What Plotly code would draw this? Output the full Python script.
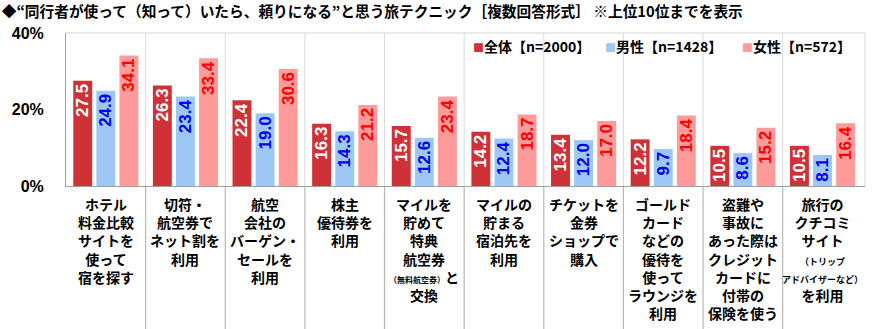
import plotly.graph_objects as go

categories = [
    "ホテル<br>料金比較<br>サイトを<br>使って<br>宿を探す",
    "切符・<br>航空券で<br>ネット割を<br>利用",
    "航空<br>会社の<br>バーゲン・<br>セールを<br>利用",
    "株主<br>優待券を<br>利用",
    "マイルを<br>貯めて<br>特典<br>航空券<br><span style=\"font-size:8px\">（無料航空券）</span>と<br>交換",
    "マイルの<br>貯まる<br>宿泊先を<br>利用",
    "チケットを<br>金券<br>ショップで<br>購入",
    "ゴールド<br>カード<br>などの<br>優待を<br>使って<br>ラウンジを<br>利用",
    "盗難や<br>事故に<br>あった際は<br>クレジット<br>カードに<br>付帯の<br>保険を使う",
    "旅行の<br>クチコミ<br>サイト<br><span style=\"font-size:9px\">（トリップ</span><br><span style=\"font-size:9px\">アドバイザーなど）</span><br>を利用",
]
series_names = ["全体【n=2000】", "男性【n=1428】", "女性【n=572】"]
total = [27.5, 26.3, 22.4, 16.3, 15.7, 14.2, 13.4, 12.2, 10.5, 10.5]
male = [24.9, 23.4, 19.0, 14.3, 12.6, 12.4, 12.0, 9.7, 8.6, 8.1]
female = [34.1, 33.4, 30.6, 21.2, 23.4, 18.7, 17.0, 18.4, 15.2, 16.4]
y_ticks = [0, 20, 40]
y_tick_labels = ["0%", "20%", "40%"]
title_text = "◆“同行者が使って（知って）いたら、頼りになる”と思う旅テクニック［複数回答形式］ ※上位10位までを表示"

bar_colors = ["#CF3236", "#9DC8F5", "#FF9B9B"]
text_colors = ["#FFFFFF", "#0000EE", "#FF0000"]
values = [total, male, female]

JP = "Noto Sans CJK JP"
NUM = "Liberation Sans"

fig = go.Figure()
for name, vals, bc, tc in zip(series_names, values, bar_colors, text_colors):
    fig.add_trace(go.Bar(
        x=categories, y=vals, name=name,
        marker=dict(color=bc, line=dict(width=0)),
        text=[f"{v:.1f}" for v in vals],
        textposition="inside", insidetextanchor="end", textangle=-90,
        textfont=dict(family=NUM, size=17, color=tc, weight="bold"),
        cliponaxis=False, showlegend=False,
    ))

plot_top, plot_bottom, H = 33, 186, 329
y_low = -(H - plot_bottom) / (plot_bottom - plot_top)

shapes = []
for i in range(len(categories) - 1):
    shapes.append(dict(type="line", xref="x", yref="paper", x0=i + 0.5, x1=i + 0.5,
                       y0=0, y1=1, line=dict(color="#DADADA", width=1), layer="below"))
    shapes.append(dict(type="line", xref="x", yref="paper", x0=i + 0.5, x1=i + 0.5,
                       y0=y_low, y1=0, line=dict(color="#B8B8B8", width=1.2), layer="below"))
shapes.append(dict(type="line", xref="paper", yref="paper", x0=0, x1=1, y0=1, y1=1,
                   line=dict(color="#D6D6D6", width=1)))
shapes.append(dict(type="line", xref="paper", yref="paper", x0=1, x1=1, y0=0, y1=1,
                   line=dict(color="#D6D6D6", width=1)))

annotations = []
for cat in categories:
    annotations.append(dict(x=cat, xref="x", y=0, yref="paper", yanchor="top", xanchor="center",
                            yshift=-6, text=f"<b>{cat}</b>", showarrow=False, align="center",
                            font=dict(family=JP, size=14, color="#000000")))

legend_x = [0.507, 0.672, 0.843]
for name, bc, lx in zip(series_names, bar_colors, legend_x):
    annotations.append(dict(x=lx, xref="paper", y=0.915, yref="paper", xanchor="left",
                            yanchor="middle", showarrow=False,
                            text=f"<span style=\"color:{bc};font-size:11px\">■</span><b>{name}</b>",
                            font=dict(family=JP, size=14, color="#000000")))

fig.update_layout(
    width=880, height=329,
    margin=dict(l=47, r=15, t=33, b=143),
    paper_bgcolor="#FFFFFF", plot_bgcolor="#FFFFFF",
    barmode="group", bargap=0.13, bargroupgap=0.18,
    uniformtext=dict(minsize=16, mode="show"),
    title=dict(text=f"<b>{title_text}</b>", x=0.002, xanchor="left", xref="container",
               y=0.963, yanchor="middle", yref="container",
               font=dict(family=JP, size=14.7, color="#000000")),
    xaxis=dict(showticklabels=False, showgrid=False, showline=True, linecolor="#A0A0A0",
               linewidth=1, zeroline=False, ticks=""),
    yaxis=dict(range=[0, 40], tickvals=y_ticks, ticktext=y_tick_labels, showgrid=False,
               showline=True, linecolor="#A0A0A0", linewidth=1, zeroline=False, ticks="",
               ticklabelstandoff=18,
               tickfont=dict(family=NUM, size=16, color="#000000", weight="bold")),
    shapes=shapes, annotations=annotations,
)

fig.write_html("out.html")
